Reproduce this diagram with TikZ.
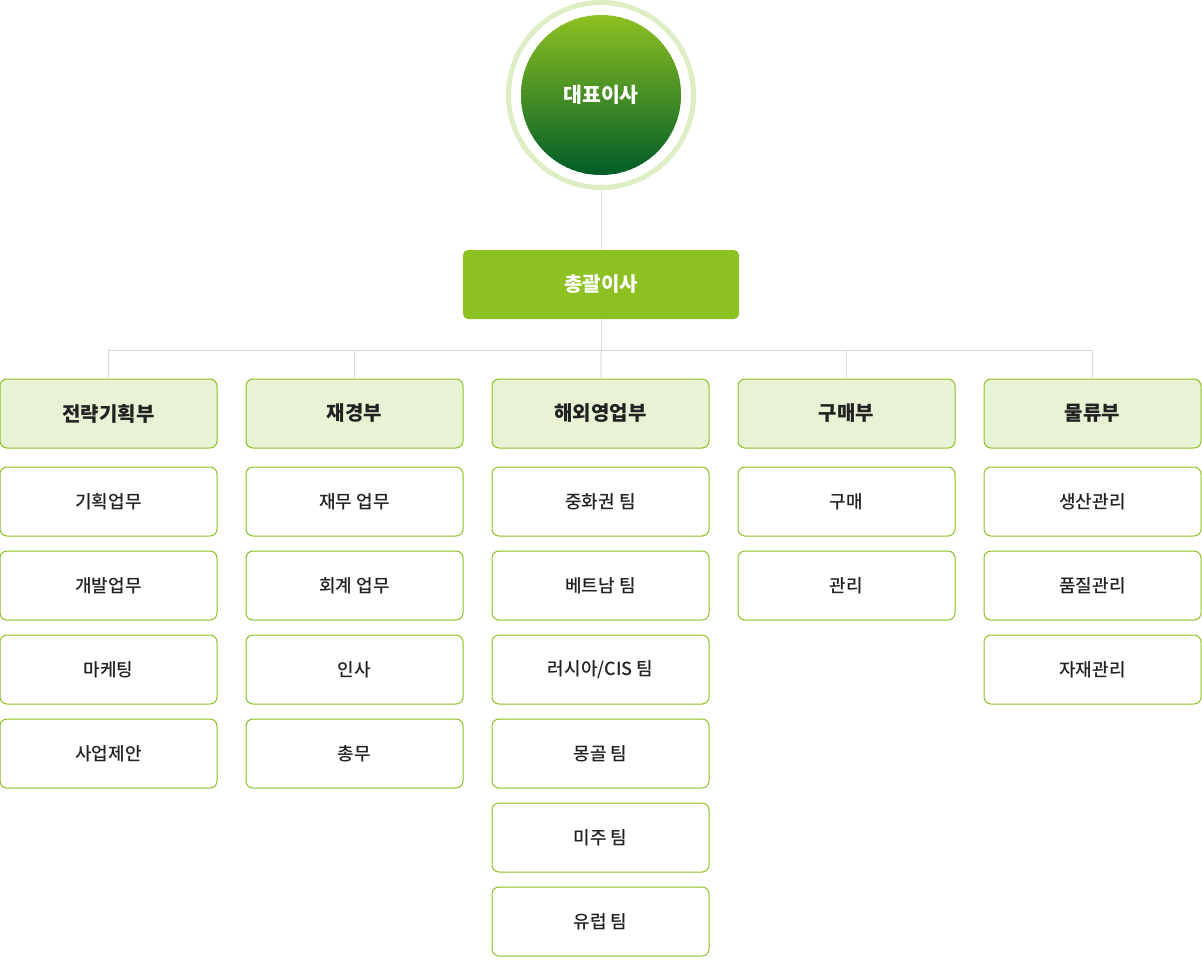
\documentclass[tikz,border=0pt]{standalone}
\usepackage{fontspec}
\setmainfont{Noto Sans CJK KR}
\newfontfamily\medium{Noto Sans CJK KR}[UprightFont=* Medium]
\usepackage{tikz}
\usetikzlibrary{positioning}

\definecolor{leaf}{HTML}{8DC021}
\definecolor{pale}{HTML}{E8F2D5}
\definecolor{ringc}{HTML}{DDEDC4}
\definecolor{deep}{HTML}{005C28}
\definecolor{wire}{HTML}{D9D9D9}
\definecolor{ink}{HTML}{222222}

\tikzset{
	dept/.style={draw=leaf, fill=pale, line width=1pt, rounded corners=7pt,
		minimum width=217pt, minimum height=69pt, inner sep=0pt, outer sep=0pt,
		text=ink, font=\fontsize{20}{22}\selectfont\bfseries},
	item/.style={draw=leaf, fill=white, line width=1pt, rounded corners=7pt,
		minimum width=217pt, minimum height=69pt, inner sep=0pt, outer sep=0pt,
		text=ink, font=\fontsize{18}{20}\medium, below=15pt of #1},
	wireline/.style={draw=wire, line width=1pt}
}

\begin{document}
\begin{tikzpicture}[x=1pt, y=-1pt]
\useasboundingbox (0,0) rectangle (1202,961);

% CEO
\node [circle,
	draw=ringc,
	line width=5pt,
	minimum size=185pt
] (ring) at (601,95) {};
\begin{scope}
	\clip (ring.center) circle [radius=80pt];
	% gradient in thin bands
	\foreach \i in {0,...,80} {
		\pgfmathsetmacro\mix{\i*1.25}
		\fill [deep!\mix!leaf] (505,15+2*\i) rectangle (697,17.5+2*\i);
	}
\end{scope}
\node [text=white,
	font=\fontsize{20.5}{22}\selectfont\bfseries
] (ceo) at (ring.center) {대표이사};

% General manager
\node [fill=leaf,
	rounded corners=5pt,
	minimum width=276pt,
	minimum height=69pt,
	text=white,
	font=\fontsize{20}{22}\selectfont\bfseries
] (gm) at (601,284.5) {총괄이사};

% Departments
\node [dept] (strategy) at (108.5,413.5) {전략기획부};
\node [dept, right = 29pt of strategy] (finance) {재경부};
\node [dept, right = 29pt of finance] (overseas) {해외영업부};
\node [dept, right = 29pt of overseas] (purchase) {구매부};
\node [dept, right = 29pt of purchase] (logistics) {물류부};

% Strategy teams
\node [item={strategy}, below = 19pt of strategy] (planning) {기획업무};
\node [item={planning}] (development) {개발업무};
\node [item={development}] (marketing) {마케팅};
\node [item={marketing}] (proposal) {사업제안};

% Finance teams
\node [item={finance}, below = 19pt of finance] (treasury) {재무 업무};
\node [item={treasury}] (accounting) {회계 업무};
\node [item={accounting}] (personnel) {인사};
\node [item={personnel}] (affairs) {총무};

% Overseas teams
\node [item={overseas}, below = 19pt of overseas] (china) {중화권 팀};
\node [item={china}] (vietnam) {베트남 팀};
\node [item={vietnam}] (russia) {러시아/CIS 팀};
\node [item={russia}] (mongolia) {몽골 팀};
\node [item={mongolia}] (america) {미주 팀};
\node [item={america}] (europe) {유럽 팀};

% Purchase teams
\node [item={purchase}, below = 19pt of purchase] (buying) {구매};
\node [item={buying}] (management) {관리};

% Logistics teams
\node [item={logistics}, below = 19pt of logistics] (production) {생산관리};
\node [item={production}] (quality) {품질관리};
\node [item={quality}] (materials) {자재관리};

% Connectors
\coordinate (bus) at (601,350);
\draw[wireline] (ring) -- (gm);
\draw[wireline] (gm) -- (bus);
\draw[wireline] (bus) -| (strategy);
\draw[wireline] (bus) -| (finance);
\draw[wireline] (bus) -- (overseas);
\draw[wireline] (bus) -| (purchase);
\draw[wireline] (bus) -| (logistics);

\end{tikzpicture}
\end{document}
